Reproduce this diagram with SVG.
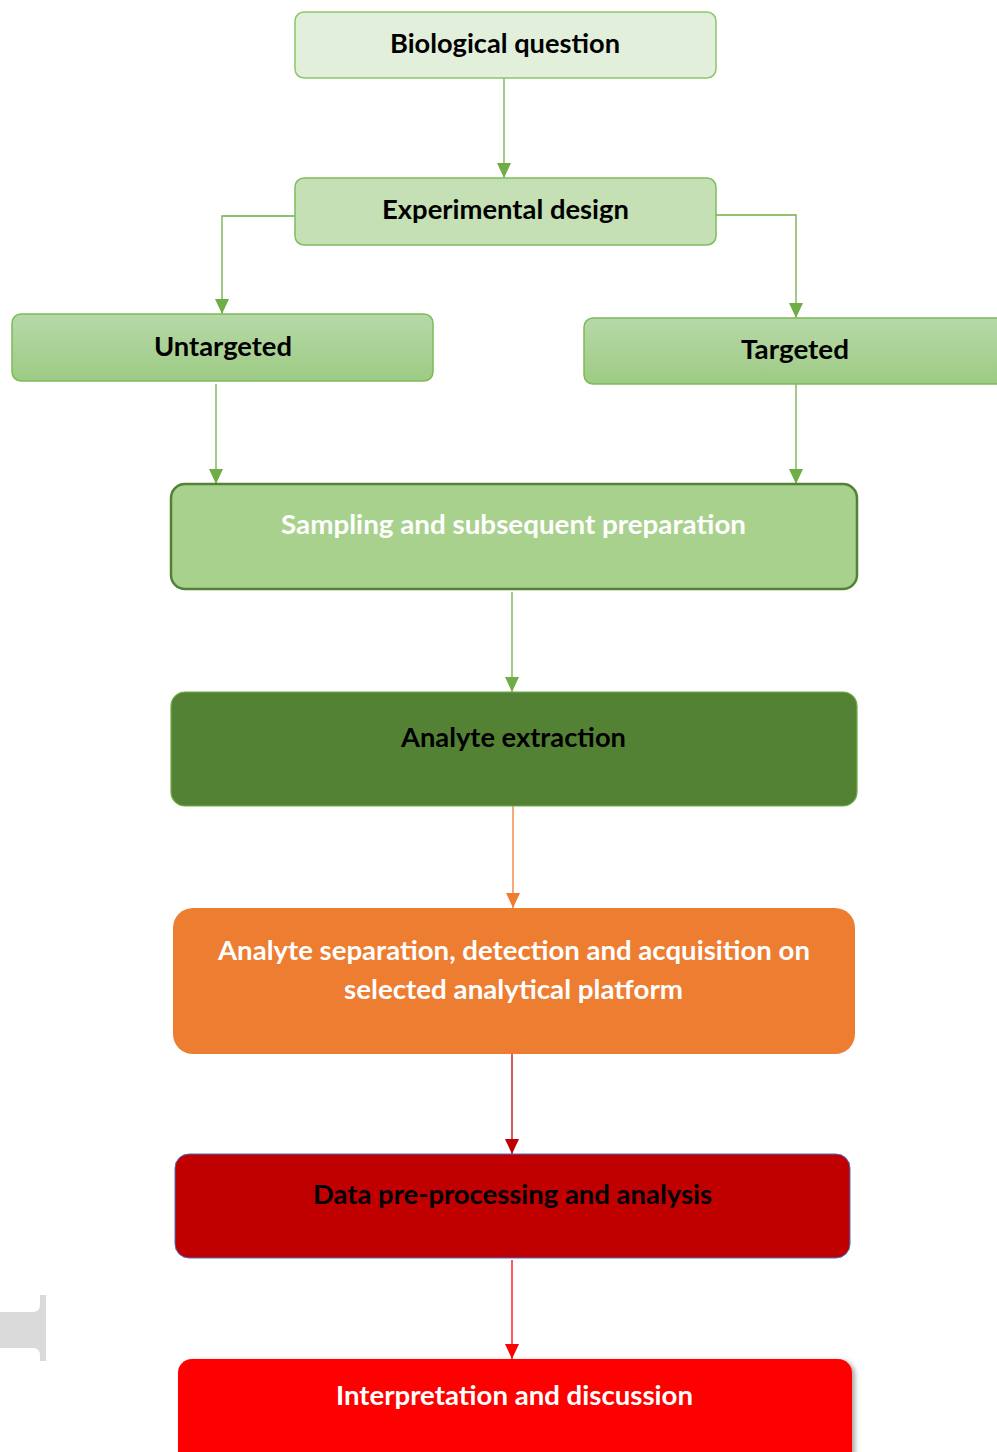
<svg xmlns="http://www.w3.org/2000/svg" width="997" height="1452" viewBox="0 0 997 1452">
<defs>
<linearGradient id="gTop" x1="0" y1="0" x2="0" y2="1">
<stop offset="0" stop-color="#B7D8A8"/>
<stop offset="1" stop-color="#9DCB84"/>
</linearGradient>
<filter id="shadow" x="-5%" y="-10%" width="115%" height="130%">
<feDropShadow dx="3" dy="2" stdDeviation="2.5" flood-color="#000" flood-opacity="0.35"/>
</filter>
<marker id="aGreen" viewBox="0 0 15 14" refX="15" refY="7" markerWidth="15" markerHeight="14" markerUnits="userSpaceOnUse" orient="auto"><path d="M0,0 L15,7 L0,14 z" fill="#70AD47"/></marker>
<marker id="aOrange" viewBox="0 0 15 14" refX="15" refY="7" markerWidth="15" markerHeight="14" markerUnits="userSpaceOnUse" orient="auto"><path d="M0,0 L15,7 L0,14 z" fill="#ED7D31"/></marker>
<marker id="aDark" viewBox="0 0 15 14" refX="15" refY="7" markerWidth="15" markerHeight="14" markerUnits="userSpaceOnUse" orient="auto"><path d="M0,0 L15,7 L0,14 z" fill="#C00000"/></marker>
<marker id="aRed" viewBox="0 0 15 14" refX="15" refY="7" markerWidth="15" markerHeight="14" markerUnits="userSpaceOnUse" orient="auto"><path d="M0,0 L15,7 L0,14 z" fill="#FF0000"/></marker>
</defs>
<style>
text { font-family: Lato, "Open Sans", "Liberation Sans", sans-serif; font-weight: 700; font-size: 26px; text-anchor: middle; fill: #000; }
text.w { fill: #FFFFFF; }
.conn { fill: none; stroke-width: 1.3; }
.g { stroke: #70AD47; marker-end: url(#aGreen); }
</style>
<g id="connectors">
<path class="conn g" d="M504,78 V178"/>
<path class="conn g" d="M295,216 H222 V314"/>
<path class="conn g" d="M716,215 H796 V318"/>
<path class="conn g" d="M216,384 V484"/>
<path class="conn g" d="M796,384 V484"/>
<path class="conn g" d="M512,592 V692"/>
<path class="conn" stroke="#ED7D31" marker-end="url(#aOrange)" d="M513,806 V908"/>
<path class="conn" stroke="#C00000" marker-end="url(#aDark)" d="M512,1054 V1154"/>
<path class="conn" stroke="#FF0000" marker-end="url(#aRed)" d="M512,1260 V1359"/>
</g>
<g id="node-biological-question">
<rect x="295" y="12" width="421" height="66" rx="9" fill="#E2EFDA" stroke="#8CC66A" stroke-width="1.5"/>
<text x="505" y="53" textLength="230" lengthAdjust="spacingAndGlyphs">Biological question</text>
</g>
<g id="node-experimental-design">
<rect x="295" y="178" width="421" height="67" rx="9" fill="#C5E0B4" stroke="#7FBC5C" stroke-width="1.5"/>
<text x="505.5" y="219" textLength="247" lengthAdjust="spacingAndGlyphs">Experimental design</text>
</g>
<g id="node-untargeted">
<rect x="12" y="314" width="421" height="67" rx="9" fill="url(#gTop)" stroke="#7DBB57" stroke-width="1.5"/>
<text x="223" y="356" textLength="138" lengthAdjust="spacingAndGlyphs">Untargeted</text>
</g>
<g id="node-targeted">
<rect x="584" y="318" width="430" height="66" rx="9" fill="url(#gTop)" stroke="#7DBB57" stroke-width="1.5"/>
<text x="795" y="359" textLength="108" lengthAdjust="spacingAndGlyphs">Targeted</text>
</g>
<g id="node-sampling">
<rect x="171" y="484" width="686" height="105" rx="14" fill="#A9D18E" stroke="#538135" stroke-width="2.5"/>
<text class="w" x="513.5" y="534" textLength="465" lengthAdjust="spacingAndGlyphs">Sampling and subsequent preparation</text>
</g>
<g id="node-analyte-extraction">
<rect x="171" y="692" width="686" height="114" rx="14" fill="#548235" stroke="#70AD47" stroke-width="1.2"/>
<text x="513.5" y="747" textLength="225" lengthAdjust="spacingAndGlyphs">Analyte extraction</text>
</g>
<g id="node-separation">
<rect x="173" y="908" width="682" height="146" rx="20" fill="#ED7D31"/>
<text class="w" x="514" y="960" textLength="592" lengthAdjust="spacingAndGlyphs">Analyte separation, detection and acquisition on</text>
<text class="w" x="513.5" y="999" textLength="339" lengthAdjust="spacingAndGlyphs">selected analytical platform</text>
</g>
<g id="node-data">
<rect x="175" y="1154" width="675" height="104" rx="14" fill="#C00000" stroke="#4472C4" stroke-width="1"/>
<text x="512.5" y="1204" textLength="399" lengthAdjust="spacingAndGlyphs">Data pre-processing and analysis</text>
</g>
<g id="node-interpretation">
<rect x="178" y="1359" width="674" height="110" rx="14" fill="#FF0000" filter="url(#shadow)"/>
<text class="w" x="514.5" y="1405" textLength="357" lengthAdjust="spacingAndGlyphs">Interpretation and discussion</text>
</g>
<g id="gray-fragment">
<path d="M0,1312 H33 Q40,1312 40,1304 V1295 H46 V1361 H40 V1356 Q40,1348 33,1348 H0 Z" fill="#DADADA"/>
</g>
</svg>
